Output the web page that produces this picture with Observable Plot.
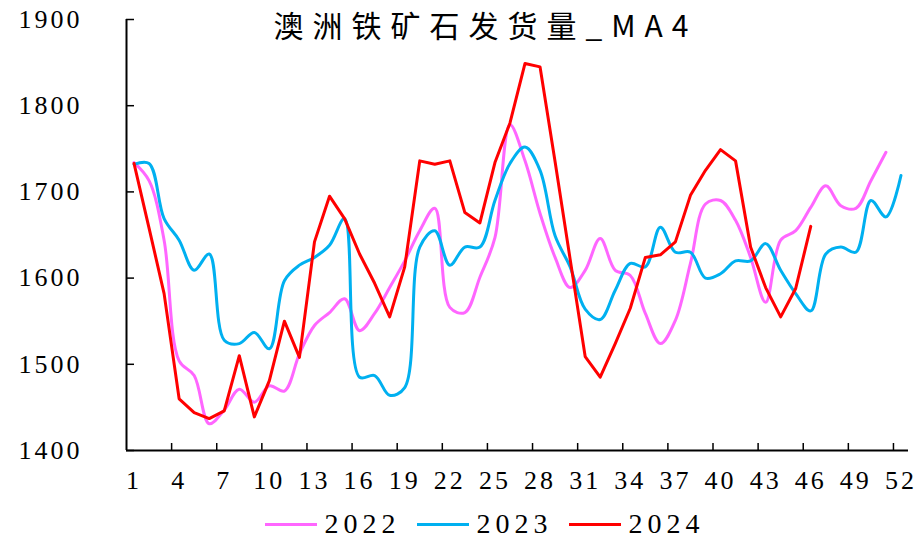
<!DOCTYPE html>
<html>
<head>
<meta charset="utf-8">
<script src="https://cdn.jsdelivr.net/npm/d3@7"></script>
<script src="https://cdn.jsdelivr.net/npm/@observablehq/plot@0.6"></script>
<style>
  html, body { margin: 0; padding: 0; background: #fff; }
  #chart svg { overflow: visible; }
  #chart svg text { letter-spacing: 3px; }
  #chart svg g[font-family="Noto Sans CJK SC"] text { letter-spacing: 9px; }
  #legend { position: relative; height: 38px; display: flex; align-items: center; justify-content: center; padding-left: 46px;
    font-family: "Liberation Serif", serif; font-size: 28px; letter-spacing: 5px; color: #000; }
  .item { display: flex; align-items: center; margin: 0 8px; }
  .swatch { width: 52px; height: 3px; margin-right: 8px; }
</style>
</head>
<body>
<div id="chart"></div>
<div id="legend"></div>
<script>
const titleText = "澳洲铁矿石发货量_MA4";
const years = ["2022", "2023", "2024"];
const colors = ["#FF66FF", "#00B0F0", "#FF0000"];
const xTickLabels = [1, 4, 7, 10, 13, 16, 19, 22, 25, 28, 31, 34, 37, 40, 43, 46, 49, 52];
const yTicks = [1400, 1500, 1600, 1700, 1800, 1900];

const v2022 = [1734,1713,1644,1504,1487,1431,1447,1471,1456,1475,1469,1512,1545,1560,1576,1539,1559,1589,1620,1655,1681,1566,1560,1601,1647,1778,1736,1675,1624,1589,1609,1646,1609,1603,1559,1524,1551,1617,1686,1690,1667,1624,1572,1644,1655,1682,1707,1684,1681,1713,1746];
const v2023 = [1732,1733,1669,1644,1609,1628,1528,1524,1537,1518,1597,1615,1624,1638,1669,1485,1487,1464,1473,1636,1655,1615,1636,1636,1690,1733,1752,1725,1649,1613,1564,1552,1586,1617,1613,1659,1630,1630,1600,1605,1620,1620,1640,1609,1582,1562,1628,1636,1630,1690,1671,1719];
const v2024 = [1733,1658,1582,1460,1444,1437,1446,1510,1439,1481,1550,1508,1642,1695,1669,1628,1594,1555,1613,1736,1732,1736,1676,1664,1734,1780,1849,1845,1735,1622,1509,1485,1524,1565,1624,1627,1642,1696,1725,1749,1736,1636,1589,1555,1588,1660];

const toRows = (vals) => vals.map((v, i) => ({week: i + 1, value: v}));
const boundaries = d3.range(3.5, 52, 3);

const chart = Plot.plot({
  width: 923,
  height: 505,
  marginLeft: 126,
  marginRight: 15,
  marginTop: 19,
  marginBottom: 55,
  style: {fontFamily: "Liberation Serif", fontSize: "26px", background: "#fff", color: "#000"},
  x: {domain: [0.5, 52.5]},
  y: {domain: [1400, 1900]},
  marks: [
    Plot.axisY({ticks: yTicks, tickSize: 0, tickPadding: 44, label: null, tickFormat: d3.format("d"), fontSize: 26}),
    Plot.axisY({ticks: yTicks, tickSize: 8, dx: 8, fill: "none", label: null, strokeWidth: 1.5}),
    Plot.axisX({ticks: xTickLabels, tickSize: 0, tickPadding: 20, label: null, tickFormat: d3.format("d"), fontSize: 26}),
    Plot.axisX({ticks: boundaries, tickSize: 7, dy: -7, fill: "none", label: null, strokeWidth: 1.5}),
    Plot.ruleX([0.5], {stroke: "#000", strokeWidth: 2}),
    Plot.ruleY([1400], {stroke: "#000", strokeWidth: 2}),
    Plot.line(toRows(v2022), {x: "week", y: "value", stroke: colors[0], strokeWidth: 3, curve: "catmull-rom"}),
    Plot.line(toRows(v2023), {x: "week", y: "value", stroke: colors[1], strokeWidth: 3, curve: "catmull-rom"}),
    Plot.line(toRows(v2024), {x: "week", y: "value", stroke: colors[2], strokeWidth: 3, curve: "linear"}),
    Plot.text([titleText], {frameAnchor: "top", dx: -32, dy: -4, lineAnchor: "top", fontSize: 30, fontFamily: "Noto Sans CJK SC", fill: "#000"})
  ]
});
document.getElementById("chart").append(chart);

const legend = document.getElementById("legend");
years.forEach((y, i) => {
  const item = document.createElement("div");
  item.className = "item";
  const sw = document.createElement("span");
  sw.className = "swatch";
  sw.style.background = colors[i];
  const t = document.createElement("span");
  t.textContent = y;
  item.append(sw, t);
  legend.append(item);
});
</script>
</body>
</html>
